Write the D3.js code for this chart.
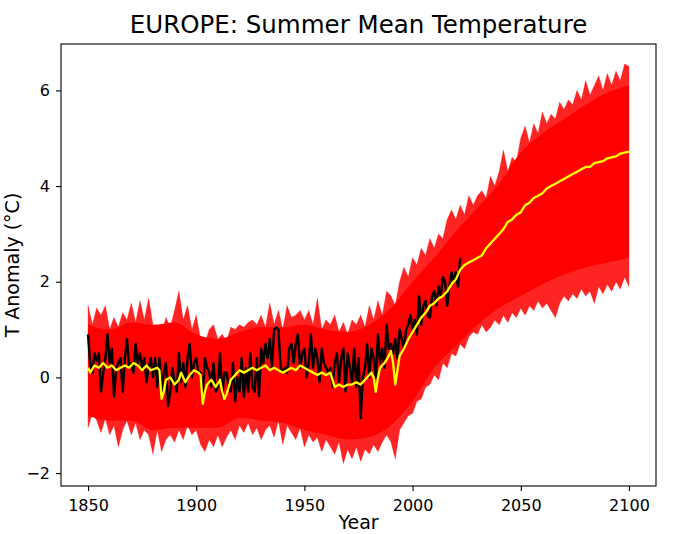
<!DOCTYPE html>
<html>
<head>
<meta charset="utf-8">
<script src="https://cdn.jsdelivr.net/npm/d3@7"></script>
<style>
    body { margin: 0; background: #fff; }
    text { font-family: "DejaVu Sans", sans-serif; fill: #000; }
    .tick text { font-size: 16px; }
</style>
</head>
<body>
<div id="chart"></div>
<script>
// observed summer anomaly, one value per year 1850..2022
var OBS_START = 1850;
var obsTemp = [
    0.9, 0.3, 0.1, 0.5, 0.35, 0.5, -0.3, 0.1, 0.4, 0.9,
    0.3, 0.6, -0.4, 0.2, 0.3, 0.4, -0.3, 0.4, 0.8, 0.2,
    0.3, 0.1, 0.7, 0.3, 0.5, 0.2, 0.4, -0.1, 0.2, 0.4,
    0.0, 0.4, -0.2, 0.4, -0.3, 0.1, 0.3, -0.6, -0.3, 0.2,
    -0.1, -0.3, 0.5, -0.1, 0.3, -0.2, 0.4, 0.7, 0.0, 0.3,
    0.4, 0.1, 0.1, -0.4, 0.4, 0.2, 0.1, -0.2, 0.3, -0.3,
    -0.2, 0.5, -0.4, 0.1, 0.1, -0.2, -0.3, 0.3, -0.5, 0.0,
    -0.3, 0.4, -0.4, 0.2, -0.3, 0.5, -0.2, -0.3, 0.4, -0.4,
    0.6, 0.3, 0.7, 0.4, 0.8, 0.2, 1.0, 1.05, 1.0, 0.2,
    0.1, 0.2, 0.1, 0.6, 0.7, 0.3, 0.7, 0.9, 0.2, 0.5,
    0.6, 0.0, 0.3, 0.9, 0.2, 0.6, 0.4, -0.1, 0.6, 0.3,
    0.2, 0.1, 0.2, -0.2, 0.3, 0.5, -0.1, 0.4, 0.6, -0.3,
    0.5, 0.2, -0.1, 0.6, -0.2, 0.4, -0.85, 0.0, 0.2, 0.7,
    0.0, 0.6, 0.4, 0.0, 0.9, 0.3, 0.6, 0.2, 1.1, 0.6,
    0.7, 0.5, 0.8, 0.4, 1.0, 0.8, 0.6, 1.0, 1.1, 1.3,
    1.0, 1.2, 0.9, 1.7, 1.1, 1.5, 1.6, 1.3, 1.25, 1.7,
    1.8, 1.5, 1.9, 1.7, 2.1, 2.0, 1.5, 1.9, 2.2, 2.0,
    2.2, 1.9, 2.5
];

// ensemble mean
var meanYears = [
    1850, 1851, 1853, 1855, 1857, 1859, 1861, 1863, 1865, 1867, 1869, 1871, 1873, 1875, 1877, 1879,
    1882, 1883, 1884, 1885, 1886, 1888, 1890, 1892, 1893, 1895, 1897, 1899, 1901, 1902, 1903, 1904,
    1905, 1907, 1909, 1911, 1912, 1913, 1914, 1916, 1918, 1920, 1922, 1924, 1926, 1928, 1930, 1932,
    1934, 1936, 1938, 1940, 1942, 1944, 1946, 1948, 1950, 1952, 1954, 1956, 1958, 1960, 1962, 1963,
    1964, 1966, 1968, 1970, 1972, 1974, 1976, 1978, 1980, 1981, 1982, 1983, 1984, 1985, 1987, 1989,
    1990, 1991, 1992, 1993, 1994, 1996, 1998, 2000, 2002, 2004, 2006, 2008, 2010, 2012, 2014, 2016,
    2018, 2020, 2022, 2024, 2026, 2028, 2030, 2032, 2034, 2036, 2038, 2040, 2042, 2044, 2046, 2048,
    2050, 2052, 2054, 2056, 2058, 2060, 2062, 2064, 2066, 2068, 2070, 2072, 2074, 2076, 2078, 2080,
    2082, 2084, 2086, 2088, 2090, 2092, 2094, 2096, 2098, 2100
];
var meanTemp = [
    0.2, 0.1, 0.25, 0.2, 0.3, 0.2, 0.25, 0.15, 0.2, 0.25, 0.2, 0.3, 0.25, 0.15, 0.25, 0.15,
    0.2, 0.15, -0.45, -0.3, -0.05, 0.0, -0.15, -0.05, 0.1, -0.1, 0.05, 0.15, 0.1, 0.05, -0.55, -0.3,
    -0.15, -0.05, -0.2, -0.05, -0.3, -0.45, -0.35, -0.05, 0.05, 0.15, 0.1, 0.15, 0.2, 0.15, 0.2, 0.25,
    0.15, 0.2, 0.15, 0.1, 0.15, 0.2, 0.15, 0.25, 0.2, 0.15, 0.1, 0.05, 0.1, 0.05, 0.1, -0.05,
    -0.2, -0.15, -0.2, -0.15, -0.15, -0.1, -0.15, -0.05, 0.05, 0.1, 0.0, -0.3, 0.0, 0.2, 0.3, 0.45,
    0.55, 0.3, -0.15, 0.15, 0.45, 0.6, 0.8, 0.95, 1.1, 1.25, 1.35, 1.5, 1.55, 1.65, 1.7, 1.8,
    1.95, 2.05, 2.25, 2.35, 2.4, 2.45, 2.5, 2.55, 2.7, 2.8, 2.9, 3.0, 3.1, 3.25, 3.3, 3.4,
    3.45, 3.6, 3.65, 3.75, 3.8, 3.85, 3.95, 4.0, 4.05, 4.1, 4.15, 4.2, 4.25, 4.3, 4.35, 4.4,
    4.4, 4.48, 4.5, 4.52, 4.58, 4.6, 4.62, 4.68, 4.7, 4.72
];

// outer edges of the member spread, every 2nd year 1850..2100
var ENV_STEP = 2;
var envUpper = [
    1.5, 1.1, 1.45, 1.3, 1.5, 1.0, 1.25, 1.05, 1.35, 1.2,
    1.55, 1.15, 1.6, 1.2, 1.65, 1.1, 1.0, 0.9, 1.25, 1.05,
    1.4, 1.8, 1.2, 1.5, 1.0, 1.3, 0.8, 0.7, 1.0, 1.1,
    0.8, 0.9, 0.75, 1.05, 1.0, 1.1, 1.05, 1.15, 1.2, 1.1,
    1.3, 1.05, 1.55, 1.1, 1.4, 1.0, 1.5, 1.25, 1.3, 1.4,
    1.2, 1.4, 1.1, 1.65, 1.0, 1.2, 1.1, 1.3, 0.95, 1.15,
    0.9, 1.2, 1.1, 1.3, 1.05, 1.5, 1.2, 1.6, 1.3, 1.8,
    1.7, 1.5, 2.0, 2.3, 2.1, 2.5, 2.35, 2.7, 2.55, 2.9,
    2.7, 3.0, 2.9, 3.3, 3.5, 3.3, 3.6, 3.4, 3.8, 3.6,
    3.8, 3.9, 3.75, 4.2, 4.0, 4.3, 4.75, 4.3, 4.6, 4.5,
    5.0, 5.25, 4.9, 5.3, 5.1, 5.55, 5.3, 5.5, 5.4, 5.75,
    5.6, 5.8, 5.7, 6.0, 5.8, 6.2, 5.9, 6.1, 6.3, 6.0,
    6.35, 6.1, 6.4, 6.2, 6.55, 6.5
];
var envLower = [
    -1.05, -0.75, -0.9, -1.15, -0.85, -1.2, -1.0, -1.45, -1.1, -0.9,
    -1.2, -0.95, -1.3, -1.1, -1.2, -1.6, -1.1, -1.55, -1.3, -1.2,
    -1.35, -1.1, -1.3, -1.0, -1.2, -1.1, -1.4, -1.55, -1.3, -1.45,
    -1.2, -1.45, -1.25, -1.1, -1.3, -1.0, -1.15, -0.95, -1.2, -1.05,
    -1.3, -1.1, -1.0, -1.25, -0.9, -1.4, -1.0, -1.15, -1.3, -1.05,
    -1.45, -1.2, -1.35, -1.25, -1.55, -1.3, -1.45, -1.6, -1.35, -1.8,
    -1.5, -1.7, -1.45, -1.75, -1.5, -1.6, -1.4, -1.55, -1.35, -1.2,
    -1.35, -1.7, -1.1, -0.95, -0.8, -0.75, -0.5, -0.45, -0.2, -0.15,
    0.05, -0.05, 0.3, 0.2, 0.5, 0.45, 0.7, 0.6, 0.85, 0.95,
    0.9, 1.1, 0.95, 1.05, 1.2, 1.1, 1.3, 1.15, 1.35, 1.25,
    1.45, 1.3, 1.5, 1.4, 1.6, 1.45, 1.55, 1.4, 1.25, 1.55,
    1.7, 1.6, 1.75, 1.65, 1.85, 1.7, 1.8, 1.55, 1.9, 1.75,
    1.95, 1.8, 2.0, 1.85, 2.1, 1.9
];

// where the members are packed solid, every 10 years
var coreYears = [1850, 1860, 1870, 1880, 1890, 1900, 1910, 1920, 1930, 1940, 1950, 1960, 1970,
    1980, 1990, 2000, 2010, 2020, 2030, 2040, 2050, 2060, 2070, 2080, 2090, 2100];
var coreUpper = [1.1, 1.0, 1.15, 1.1, 1.15, 0.9, 0.8, 0.95, 1.05, 1.05, 1.1, 1.0, 0.95,
    1.1, 1.45, 2.0, 2.5, 3.05, 3.55, 4.05, 4.7, 5.1, 5.4, 5.7, 5.95, 6.1];
var coreLower = [-0.8, -0.9, -0.9, -1.1, -1.05, -1.05, -1.05, -0.85, -0.9, -0.95, -1.1, -1.2, -1.3,
    -1.25, -1.0, -0.5, 0.2, 0.65, 1.1, 1.45, 1.7, 1.95, 2.15, 2.3, 2.4, 2.5];

var xTicks = [1850, 1900, 1950, 2000, 2050, 2100];
var yTicks = [-2, 0, 2, 4, 6];

function drawChart(){
    var width = 680;
    var height = 534;
    var left = 61, right = 656, top = 44, bottom = 486;

    var svg = d3.select('#chart')
        .append('svg')
        .attr('width', width)
        .attr('height', height)

    var x = d3.scaleLinear().domain([1837.5, 2112.5]).range([left, right]);
    var y = d3.scaleLinear().domain([-2.27, 6.97]).range([bottom, top]);

    var envData = envUpper.map((d, i) => ({year: 1850 + i * ENV_STEP, hi: d, lo: envLower[i]}));
    var coreData = coreYears.map((d, i) => ({year: d, hi: coreUpper[i], lo: coreLower[i]}));

    var plot = svg.append('g')

    // spread of the members, thin jagged edge + solid core
    plot.append('path')
        .datum(envData)
        .attr('d', d3.area().x(d => x(d.year)).y0(d => y(d.lo)).y1(d => y(d.hi)))
        .style('fill', '#ff0000')
        .style('fill-opacity', 0.86)
        .style('stroke', '#ff0000')
        .style('stroke-width', 0.6)
        .style('stroke-opacity', 0.6)

    plot.append('path')
        .datum(coreData)
        .attr('d', d3.area().curve(d3.curveMonotoneX).x(d => x(d.year)).y0(d => y(d.lo)).y1(d => y(d.hi)))
        .style('fill', '#ff0000')

    var line = d3.line().x(d => x(d[0])).y(d => y(d[1]));

    plot.append('path')
        .datum(obsTemp.map((d, i) => [OBS_START + i, d]))
        .attr('d', line)
        .style('fill', 'none')
        .style('stroke', '#000')
        .style('stroke-width', 2.4)
        .style('stroke-linejoin', 'round')

    plot.append('path')
        .datum(meanYears.map((d, i) => [d, meanTemp[i]]))
        .attr('d', line)
        .style('fill', 'none')
        .style('stroke', '#ffff00')
        .style('stroke-width', 2.3)
        .style('stroke-linejoin', 'round')

    // axes
    svg.append('g')
        .attr('transform', 'translate(0,' + bottom + ')')
        .call(d3.axisBottom(x).tickValues(xTicks).tickFormat(d3.format('d')).tickSize(5).tickPadding(9))
    svg.append('g')
        .attr('transform', 'translate(' + left + ',0)')
        .call(d3.axisLeft(y).tickValues(yTicks).tickFormat(d => d < 0 ? '\u2212' + Math.abs(d) : d).tickSize(5).tickPadding(6))
    svg.selectAll('.domain').remove();
    svg.selectAll('.tick line').style('stroke', '#000').style('stroke-width', 1.1);
    svg.selectAll('.tick text').style('font-family', '"DejaVu Sans", sans-serif').style('font-size', '16px');

    svg.append('rect')
        .attr('x', left)
        .attr('y', top)
        .attr('width', right - left)
        .attr('height', bottom - top)
        .style('fill', 'none')
        .style('stroke', '#000')
        .style('stroke-width', 1.1)

    svg.append('text')
        .text('EUROPE: Summer Mean Temperature')
        .attr('x', (left + right) / 2)
        .attr('y', 33)
        .attr('text-anchor', 'middle')
        .style('font-size', '24.5px')

    svg.append('text')
        .text('Year')
        .attr('x', (left + right) / 2)
        .attr('y', 529)
        .attr('text-anchor', 'middle')
        .style('font-size', '19px')

    svg.append('text')
        .text('T Anomaly (°C)')
        .attr('transform', 'translate(19,' + ((top + bottom) / 2) + ') rotate(-90)')
        .attr('text-anchor', 'middle')
        .style('font-size', '19px')
}

drawChart();
</script>
</body>
</html>
